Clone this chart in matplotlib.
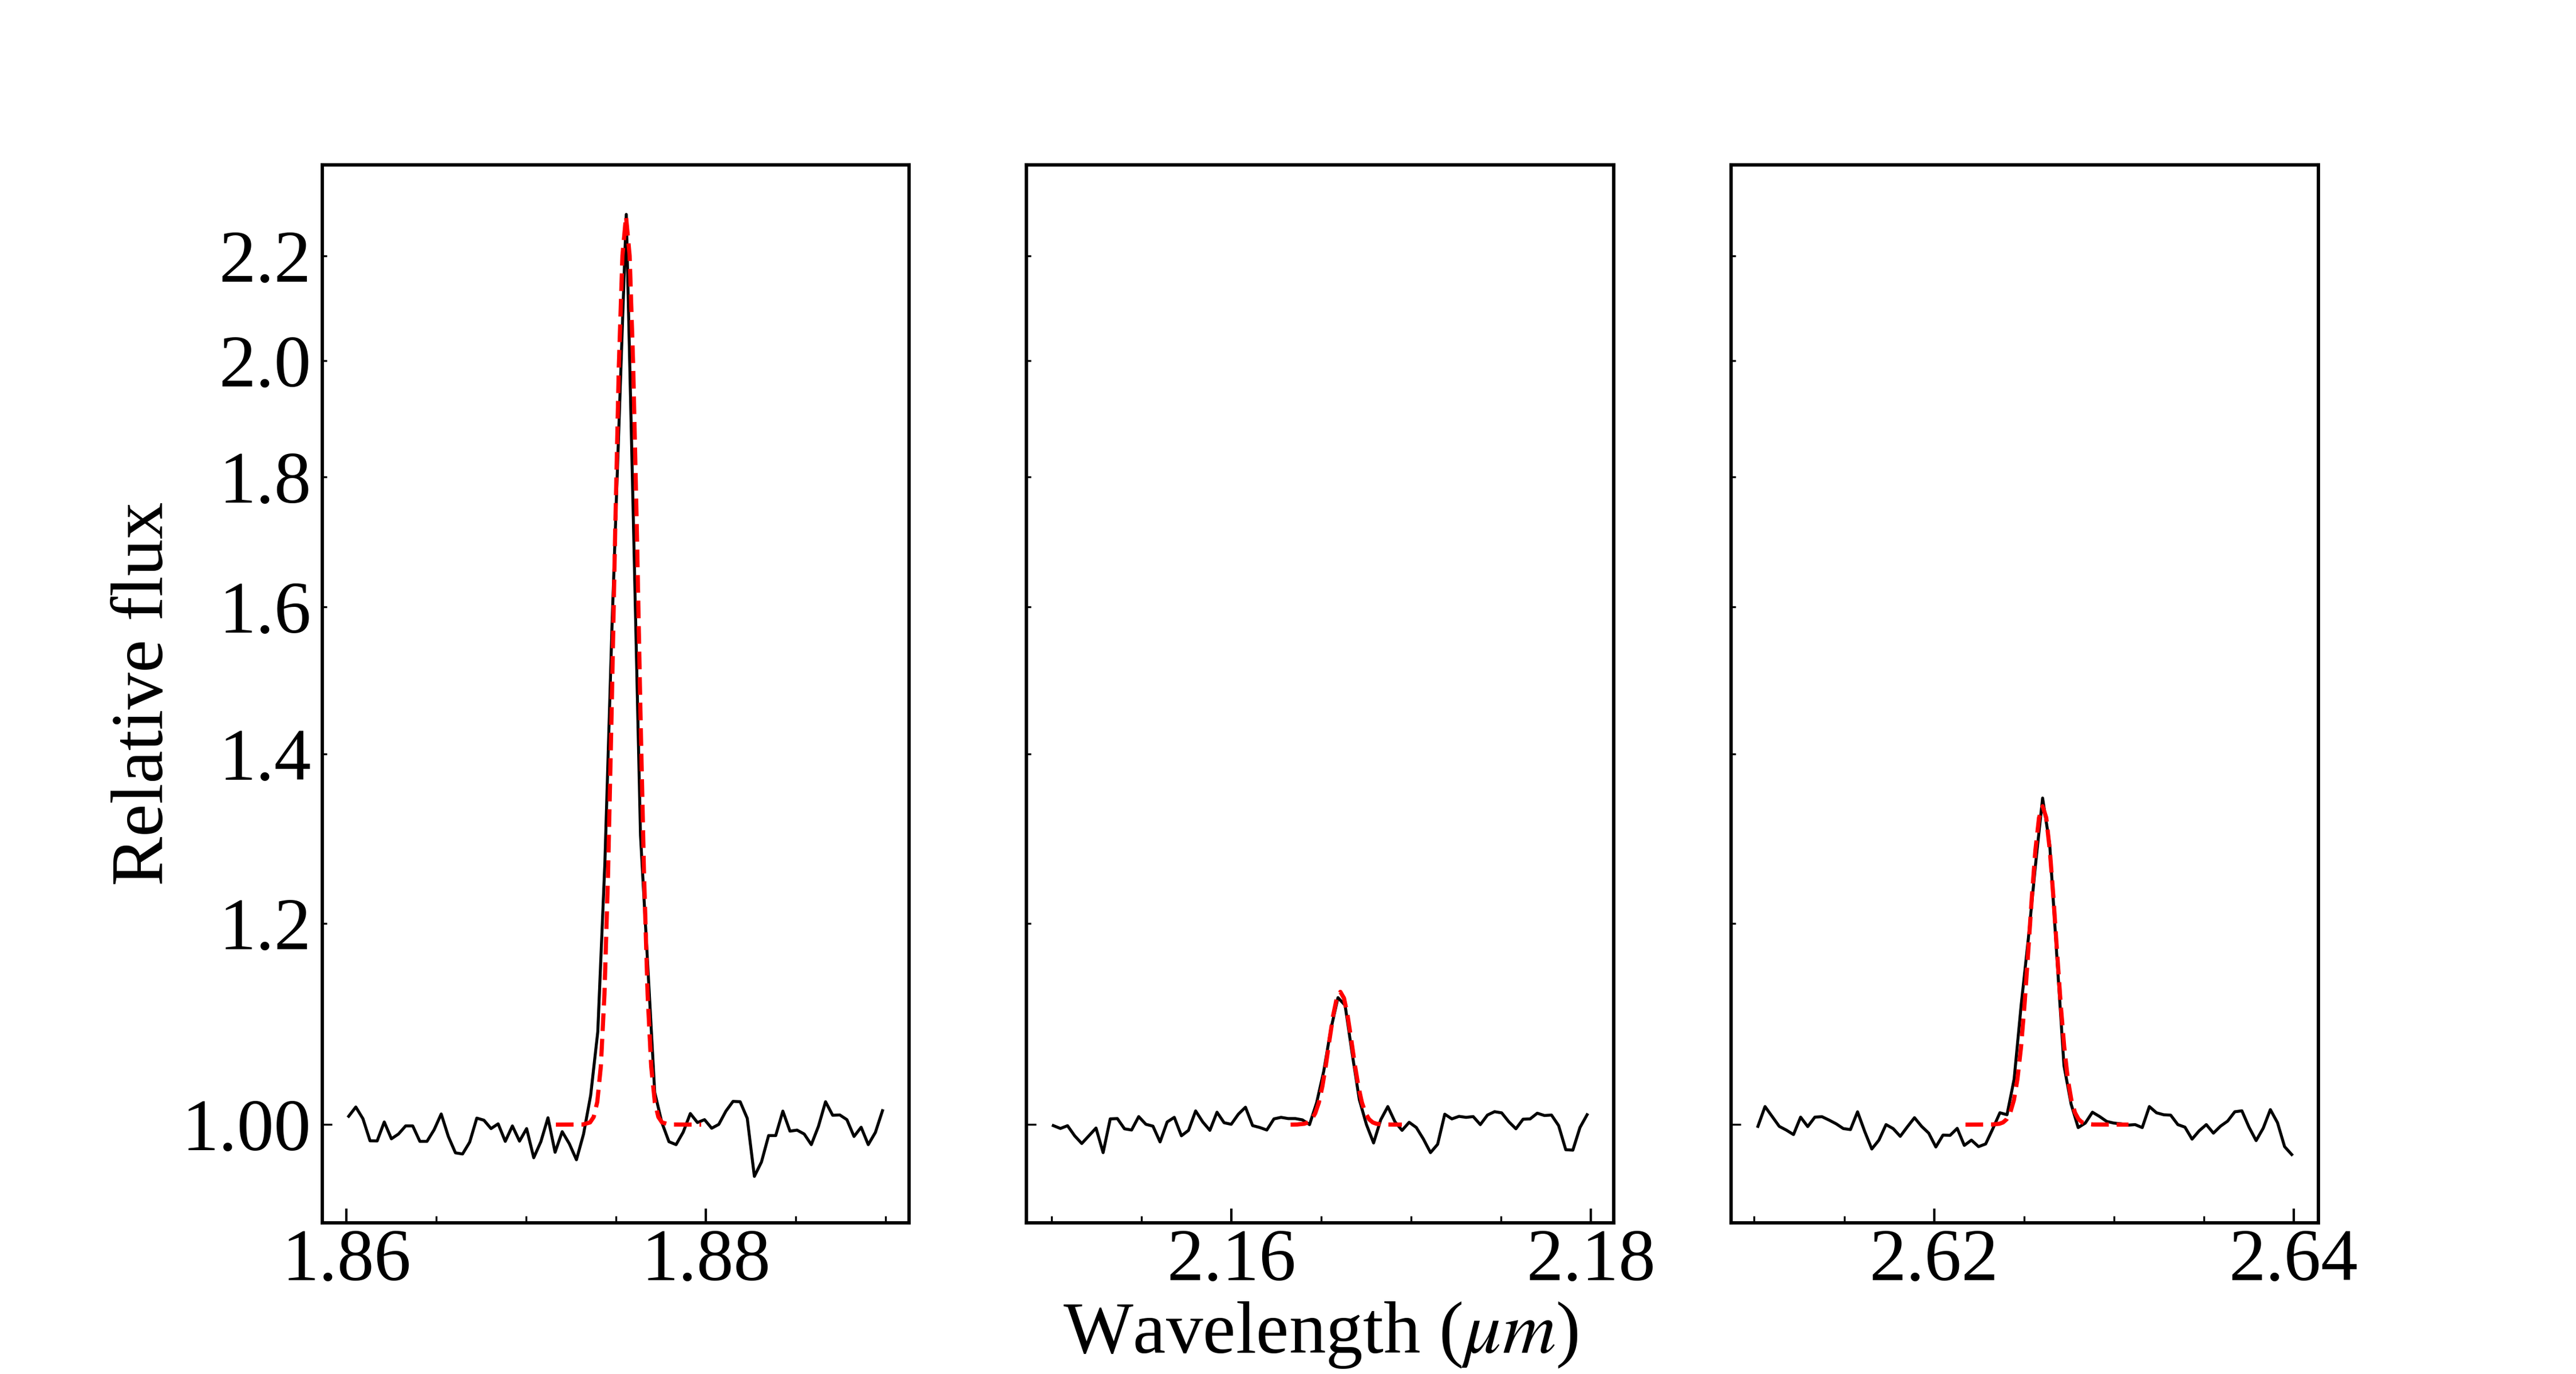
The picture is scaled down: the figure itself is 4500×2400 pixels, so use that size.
import numpy as np
import matplotlib
matplotlib.use("Agg")
import matplotlib.pyplot as plt
from matplotlib.ticker import MultipleLocator, FormatStrFormatter

# observed spectra (relative flux), 76 pixels per window
wl_range1 = (1.860124, 1.889815)
wl_range2 = (2.150102, 2.179793)
wl_range3 = (2.610204, 2.639895)
n_pix = 76

flux1 = [1.0076, 1.0161, 1.0054, 0.9854, 0.9853, 1.0024, 0.9872, 0.9915, 0.9988, 0.9988,
         0.9849, 0.9849, 0.9953, 1.0097, 0.9893, 0.9747, 0.9737, 0.9842, 1.0059, 1.0040,
         0.9964, 1.0007, 0.9849, 0.9988, 0.9851, 0.9964, 0.9704, 0.9846, 1.0062, 0.9752,
         0.9936, 0.9828, 0.9686, 0.9915, 1.0270, 1.0880, 1.2690, 1.5730, 1.8960, 2.2840,
         1.7300, 1.3000, 1.1580, 1.0296, 1.0019, 0.9846, 0.9820, 0.9932, 1.0101, 1.0019,
         1.0045, 0.9967, 1.0002, 1.0123, 1.0213, 1.0210, 1.0057, 0.9541, 0.9667, 0.9901,
         0.9901, 1.0123, 0.9941, 0.9950, 0.9915, 0.9820, 0.9984, 1.0210, 1.0085, 1.0088,
         1.0045, 0.9893, 0.9976, 0.9820, 0.9929, 1.0127]

flux2 = [0.9991, 0.9965, 0.9990, 0.9899, 0.9830, 0.9899, 0.9969, 0.9749, 1.0052, 1.0055,
         0.9962, 0.9951, 1.0073, 1.0003, 0.9986, 0.9844, 1.0024, 1.0066, 0.9899, 0.9948,
         1.0125, 1.0024, 0.9948, 1.0113, 1.0017, 1.0003, 1.0095, 1.0159, 0.9991, 0.9974,
         0.9951, 1.0052, 1.0066, 1.0055, 1.0055, 1.0043, 1.0000, 1.0201, 1.0497, 1.0905,
         1.1221, 1.1143, 1.0662, 1.0228, 1.0000, 0.9835, 1.0043, 1.0165, 1.0026, 0.9948,
         1.0021, 0.9974, 0.9870, 0.9749, 0.9823, 1.0095, 1.0052, 1.0075, 1.0066, 1.0073,
         1.0000, 1.0087, 1.0118, 1.0107, 1.0026, 0.9962, 1.0049, 1.0052, 1.0104, 1.0083,
         1.0087, 0.9991, 0.9775, 0.9771, 0.9974, 1.0090]

flux3 = [0.9984, 1.0165, 1.0074, 0.9984, 0.9950, 0.9910, 1.0068, 0.9982, 1.0068, 1.0072,
         1.0041, 1.0007, 0.9964, 0.9955, 1.0117, 0.9939, 0.9781, 0.9860, 1.0000, 0.9964,
         0.9894, 0.9980, 1.0063, 0.9984, 0.9923, 0.9799, 0.9905, 0.9903, 0.9966, 0.9813,
         0.9860, 0.9802, 0.9826, 0.9962, 1.0108, 1.0090, 1.0421, 1.1153, 1.1841, 1.2656,
         1.3449, 1.2893, 1.1651, 1.0551, 1.0189, 0.9973, 1.0014, 1.0113, 1.0074, 1.0029,
         1.0014, 1.0007, 0.9995, 1.0000, 0.9973, 1.0165, 1.0108, 1.0090, 1.0086, 1.0000,
         0.9977, 0.9869, 0.9944, 1.0000, 0.9923, 0.9986, 1.0032, 1.0117, 1.0126, 0.9977,
         0.9856, 0.9968, 1.0137, 1.0018, 0.9802, 0.9732]

# fitted line profiles (red dashed)
fit_wl1 = [1.87165, 1.87315, 1.87355, 1.87375, 1.87395, 1.87415, 1.87435, 1.87455,
           1.87475, 1.87495, 1.87515, 1.87535, 1.87555, 1.87575, 1.87595, 1.87615,
           1.87635, 1.87655, 1.87675, 1.87695, 1.87715, 1.87735, 1.87755, 1.87795, 1.87973]
fit_fl1 = [1.0, 1.0001, 1.0020, 1.0069, 1.0207, 1.0544, 1.1257, 1.2554,
           1.4563, 1.7165, 1.9891, 2.2001, 2.2800, 2.2001, 1.9891, 1.7165,
           1.4563, 1.2554, 1.1257, 1.0544, 1.0207, 1.0069, 1.0020, 1.0001, 1.0]

fit_wl2 = [2.16330, 2.16367, 2.16407, 2.16427, 2.16447, 2.16467, 2.16487, 2.16507,
           2.16527, 2.16547, 2.16567, 2.16587, 2.16607, 2.16627, 2.16647, 2.16667,
           2.16687, 2.16707, 2.16727, 2.16747, 2.16767, 2.16787, 2.16807, 2.16847, 2.16949]
fit_fl2 = [1.0, 1.0001, 1.0008, 1.0020, 1.0048, 1.0103, 1.0201, 1.0354,
           1.0563, 1.0806, 1.1042, 1.1216, 1.1280, 1.1216, 1.1042, 1.0806,
           1.0563, 1.0354, 1.0201, 1.0103, 1.0048, 1.0020, 1.0008, 1.0001, 1.0]

fit_wl3 = [2.62175, 2.62324, 2.62364, 2.62384, 2.62404, 2.62424, 2.62444, 2.62464,
           2.62484, 2.62504, 2.62524, 2.62544, 2.62564, 2.62584, 2.62604, 2.62624,
           2.62644, 2.62664, 2.62684, 2.62704, 2.62724, 2.62744, 2.62764, 2.62784,
           2.62804, 2.62824, 2.62844, 2.62884, 2.63082]
fit_fl3 = [1.0, 1.0001, 1.0008, 1.0020, 1.0049, 1.0109, 1.0224, 1.0422,
           1.0732, 1.1165, 1.1704, 1.2290, 1.2829, 1.3211, 1.3350, 1.3211,
           1.2829, 1.2290, 1.1704, 1.1165, 1.0732, 1.0422, 1.0224, 1.0109,
           1.0049, 1.0020, 1.0008, 1.0001, 1.0]

y_major = [1.0]
y_major_labels = ["1.00"]
y_minor = [1.2, 1.4, 1.6, 1.8, 2.0, 2.2]
y_minor_labels = ["1.2", "1.4", "1.6", "1.8", "2.0", "2.2"]

plt.rcParams['font.family'] = ['Liberation Serif', 'DejaVu Serif']
plt.rcParams['mathtext.fontset'] = 'stix'
plt.rcParams['lines.scale_dashes'] = False
plt.rcParams['axes.linewidth'] = 1.4
fs = 31

fig, axes = plt.subplots(1, 3, figsize=(15, 8), dpi=300, sharey=True)
fig.subplots_adjust(left=0.125, right=0.9, bottom=0.11, top=0.88, wspace=0.2)

spectra = [(wl_range1, flux1, fit_wl1, fit_fl1),
           (wl_range2, flux2, fit_wl2, fit_fl2),
           (wl_range3, flux3, fit_wl3, fit_fl3)]

for i, (ax, (rng, fl, fwl, ffl)) in enumerate(zip(axes, spectra)):
    wl = np.linspace(rng[0], rng[1], n_pix)
    ax.plot(wl, fl, color='k', lw=1.25)
    ax.plot(fwl, ffl, color='r', lw=1.75, ls=(0, (7.4, 3.3)))
    ax.set_xmargin(0.05)
    ax.set_yscale('log')
    ax.xaxis.set_major_locator(MultipleLocator(0.02))
    ax.xaxis.set_minor_locator(MultipleLocator(0.005))
    ax.xaxis.set_major_formatter(FormatStrFormatter('%.2f'))
    ax.tick_params(which='both', direction='in', top=False, right=False,
                   labelsize=fs)
    ax.tick_params(axis='x', which='major', length=6, width=1.0, pad=2.5)
    ax.tick_params(axis='x', which='minor', length=3, width=0.8)
    ax.tick_params(axis='y', which='major', length=4, width=0.8, pad=4.5)
    ax.tick_params(axis='y', which='minor', length=2, width=0.8, pad=4.5)

ax0 = axes[0]
ax0.set_ylim(0.9147, 2.389)
ax0.set_yticks(y_major, y_major_labels)
ax0.set_yticks(y_minor, y_minor_labels, minor=True)
ax0.set_ylim(0.9147, 2.389)
for ax in axes[1:]:
    ax.tick_params(axis='y', which='both', labelleft=False)

ax0.set_ylabel('Relative flux', fontsize=fs, labelpad=1.5)
axes[1].set_xlabel(r'Wavelength ($\mu m$)', fontsize=fs, labelpad=1.5)

fig.savefig('out.png', dpi=300)
